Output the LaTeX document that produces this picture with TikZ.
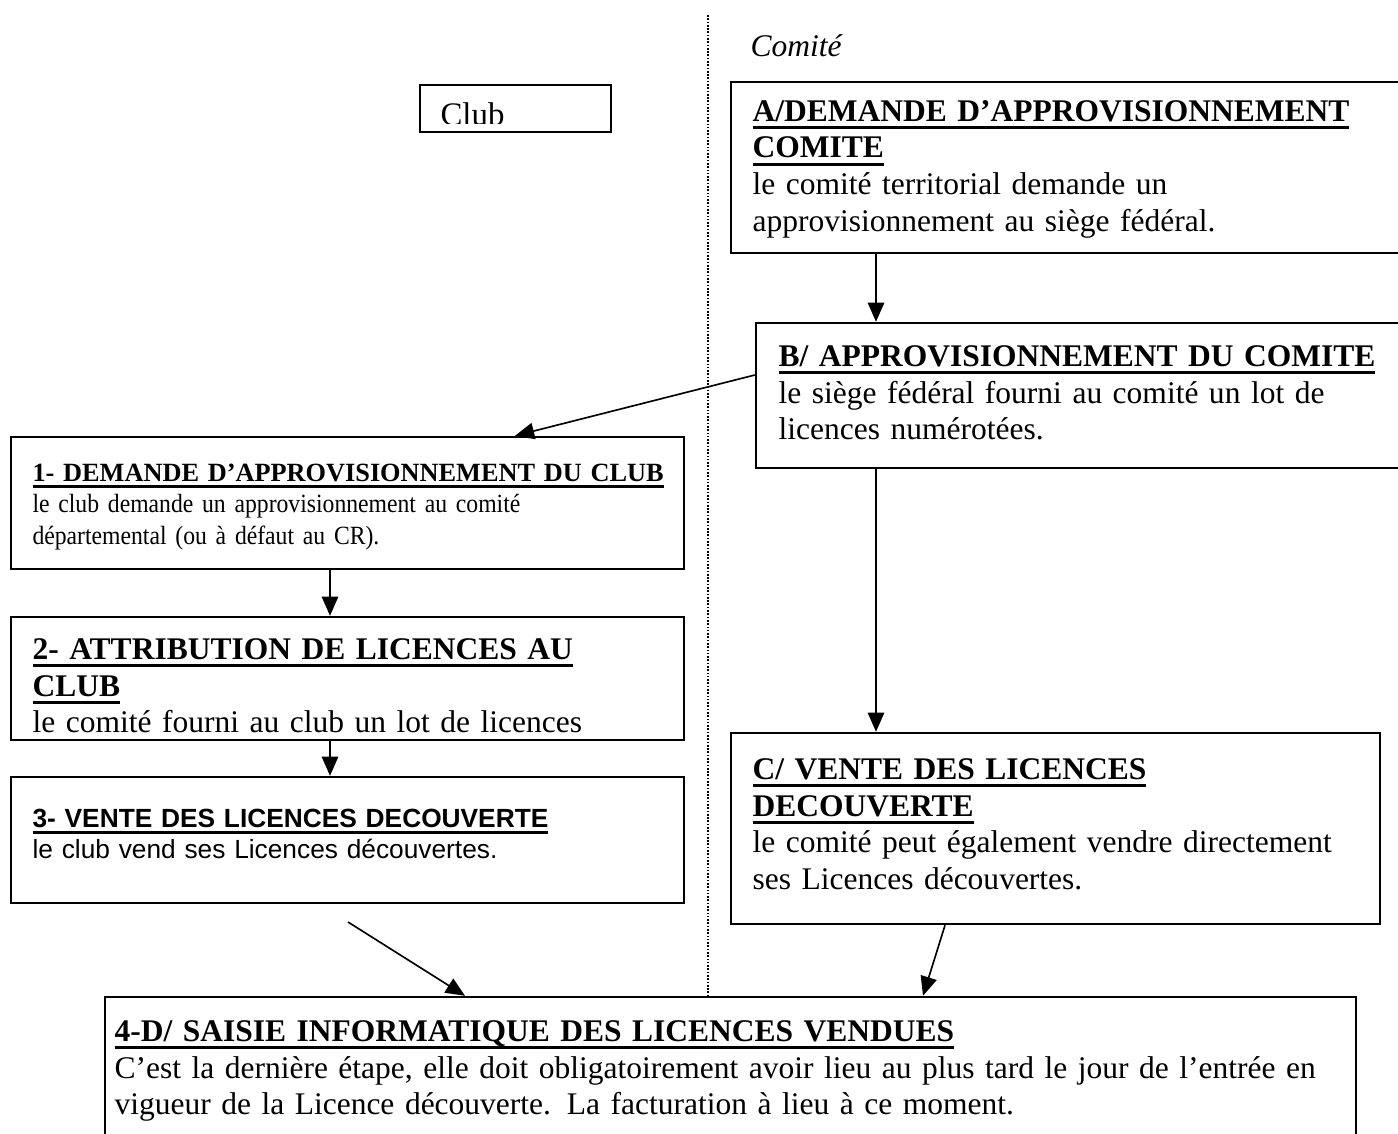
\documentclass[tikz,border=0pt]{standalone}
\usepackage{fontspec}
\setmainfont{Liberation Serif}
\newfontfamily\sansarial{Liberation Sans}
\newfontfamily\serifetroit[FakeStretch = 0.9]{Liberation Serif}
\usetikzlibrary{arrows.meta,fit}

\newcommand{\souligne}[1]{\setbox0=\hbox{#1}\leavevmode\rlap{\vrule width\wd0 height -.15em depth .26em}\box0}

\begin{document}
\begin{tikzpicture}[x = 0.365pt, y = -0.365pt,
		boite/.style = {draw, line width = 0.9pt, inner sep = 0pt},
		texte/.style = {anchor = base west, inner sep = 0pt, text width = 600pt, align = left, font = \fontsize{11.5}{13.5}\selectfont},
		petit/.style = {font = \fontsize{9.6}{11.6}\selectfont},
		fleche/.style = {line width = 0.6pt, -{Triangle[length = 7pt, width = 6pt]}},
		divider/.style = {line width = 0.5pt, dash pattern = on 0.6pt off 0.6pt}]
		\useasboundingbox (0, 0) rectangle (1398, 1133);
		% boites
		\node[boite, fit = {(420, 85) (611, 132)}] (club) {};
		\node[boite, fit = {(731, 82) (1410, 253)}] (A) {};
		\node[boite, fit = {(756, 323) (1410, 468)}] (B) {};
		\node[boite, fit = {(731, 733) (1380, 924)}] (C) {};
		\node[boite, fit = {(11, 437) (684, 569)}] (b1) {};
		\node[boite, fit = {(11, 617) (684, 740)}] (b2) {};
		\node[boite, fit = {(11, 777) (684, 903)}] (b3) {};
		\node[boite, fit = {(105, 997) (1356, 1150)}] (D) {};
		% separation club / comite
		\draw[divider] (708, 15) -- (708, 0 |- D.north);
		% textes
		\begin{scope}
			\clip (420, 85) rectangle (611, 123);
			\node[texte, font = \fontsize{12}{13.5}\selectfont] (tclub) at (440, 125) {Club};
		\end{scope}
		\node[texte, font = \fontsize{11.5}{13.5}\selectfont\itshape] (tcomite) at (750, 56) {Comité};
		\node[texte] (tA) at (752, 121) {\textbf{\souligne{A/DEMANDE D’APPROVISIONNEMENT}}\\\textbf{\souligne{COMITE}}\\le comité territorial demande un\\approvisionnement au siège fédéral.};
		\node[texte] (tB) at (778, 366) {\textbf{\souligne{B/ APPROVISIONNEMENT DU COMITE}}\\le siège fédéral fourni au comité un lot de\\licences numérotées.};
		\node[texte, petit] (t1) at (32, 481) {\textbf{\souligne{1- DEMANDE D’APPROVISIONNEMENT DU CLUB}}\\\serifetroit le club demande un approvisionnement au comité\\départemental (ou à défaut au CR).};
		\node[texte] (t2) at (32, 659) {\textbf{\souligne{2- ATTRIBUTION DE LICENCES AU}}\\\textbf{\souligne{CLUB}}\\le comité fourni au club un lot de licences};
		\node[texte, font = \sansarial\fontsize{9.6}{11.6}\selectfont] (t3) at (32, 827) {\textbf{\souligne{3- VENTE DES LICENCES DECOUVERTE}}\\le club vend ses Licences découvertes.};
		\node[texte] (tC) at (752, 779) {\textbf{\souligne{C/ VENTE DES LICENCES}}\\\textbf{\souligne{DECOUVERTE}}\\le comité peut également vendre directement\\ses Licences découvertes.};
		\node[texte] (tD) at (114, 1041) {\textbf{\souligne{4-D/ SAISIE INFORMATIQUE DES LICENCES VENDUES}}\\C’est la dernière étape, elle doit obligatoirement avoir lieu au plus tard le jour de l’entrée en\\vigueur de la Licence découverte. La facturation à lieu à ce moment.};
		% fleches
		\coordinate (depart) at (348, 922);
		\draw[fleche] (876, 0 |- A.south) -- (876, 0 |- B.north);
		\draw[fleche] (B.west |- 0, 375) -- (515, 0 |- b1.north);
		\draw[fleche] (330, 0 |- b1.south) -- (330, 0 |- b2.north);
		\draw[fleche] (330, 0 |- b2.south) -- (330, 0 |- b3.north);
		\draw[fleche] (876, 0 |- B.south) -- (876, 0 |- C.north);
		\draw[fleche] (depart) -- (465, 0 |- D.north);
		\draw[fleche] (945, 0 |- C.south) -- (923, 0 |- D.north);
	\end{tikzpicture}
\end{document}
